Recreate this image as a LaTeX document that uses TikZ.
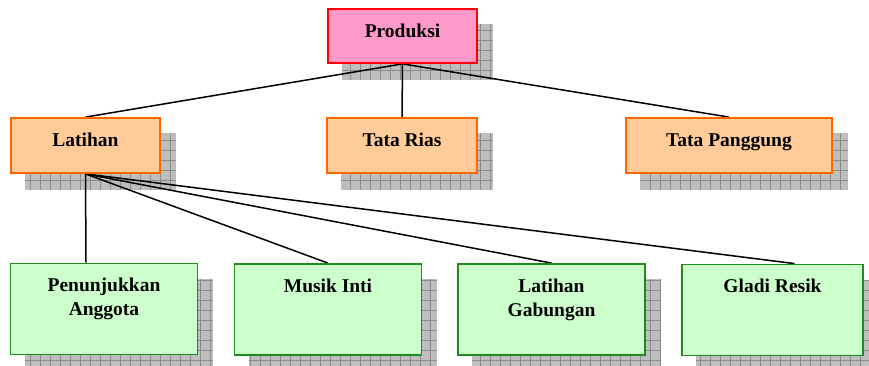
\documentclass[tikz,border=0pt]{standalone}
\usepackage{fontspec}
\setmainfont{Liberation Serif}
\usetikzlibrary{backgrounds}

\definecolor{pinkfill}{HTML}{FF99CC}
\definecolor{redline}{HTML}{FF0000}
\definecolor{orangefill}{HTML}{FFCC99}
\definecolor{orangeline}{HTML}{FF6600}
\definecolor{greenfill}{HTML}{CCFFCC}
\definecolor{greenline}{HTML}{1E8C1E}
\definecolor{shadowgray}{HTML}{BEBEBE}
\definecolor{gridgray}{HTML}{8C8C8C}

% text of a leaf box: set at the top of the box
\newcommand\leaftext[1]{\parbox[c][91pt][t]{180pt}{\centering\rule{0pt}{28pt}#1}}

\begin{document}
\begin{tikzpicture}[x=1pt,y=-1pt,
  box/.style={draw, line width=1.8pt, inner sep=0pt, align=center,
    font=\bfseries\fontsize{19.5}{24}\selectfont},
  oneline/.style={text height=11pt, text depth=8pt},
  topbox/.style={box, oneline, fill=pinkfill, draw=redline},
  midbox/.style={box, oneline, fill=orangefill, draw=orangeline,
    minimum width=149, minimum height=55},
  leafbox/.style={box, fill=greenfill, draw=greenline,
    minimum width=187, minimum height=91},
  link/.style={line width=1.5pt, black},
  shadowgrid/.style={draw=gridgray, line width=0.7pt}
]
\useasboundingbox (0,0) rectangle (869,366);

% top level
\node[topbox, minimum width=149, minimum height=54] (prod) at (402.5,36) {Produksi};

% second level
\node[midbox] (lat) at (85.5,145.5) {Latihan};
\node[midbox, minimum width=150] (rias) at (402,145.5) {Tata Rias};
\node[midbox, minimum width=206] (pang) at (729,145.5) {Tata Panggung};

% third level
\node[leafbox] (pen) at (104,309) {\leaftext{Penunjukkan\\Anggota}};
\node[leafbox] (mus) at (328,309.5) {\leaftext{Musik Inti}};
\node[leafbox] (gab) at (551.5,309.5) {\leaftext{Latihan\\Gabungan}};
\node[leafbox, minimum width=181] (gla) at (772.5,310) {\leaftext{Gladi Resik}};

\begin{scope}[on background layer]
  % hatched drop shadows
  \foreach \n in {prod,lat,rias,pang,pen,mus,gab,gla}{
    \begin{scope}
      \path[clip] ([shift={(15,16)}]\n.north west) rectangle ([shift={(15,16)}]\n.south east);
      \fill[shadowgray] ([shift={(15,16)}]\n.north west) rectangle ([shift={(15,16)}]\n.south east);
      \draw[shadowgrid, step=10pt] ([shift={(15,16)}]\n.north west) grid ([shift={(15,16)}]\n.south east);
    \end{scope}
  }
  % connectors
  \draw[link] (prod.south) -- (lat.north);
  \draw[link] (prod.south) -- (rias.north);
  \draw[link] (prod.south) -- (pang.north);
  \draw[link] (lat.south) -- ([xshift=-18pt]pen.north);
  \draw[link] (lat.south) -- (mus.north);
  \draw[link] (lat.south) -- (gab.north);
  \draw[link] (lat.south) -- ([xshift=22pt]gla.north);
\end{scope}
\end{tikzpicture}
\end{document}
